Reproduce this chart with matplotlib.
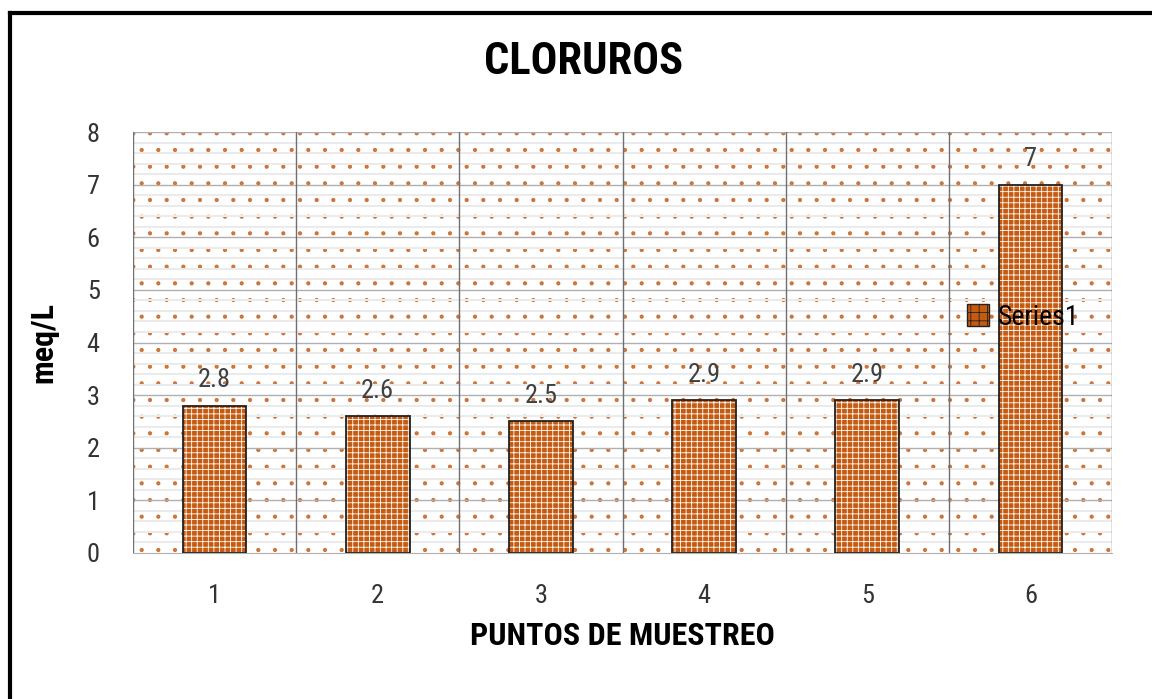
import matplotlib.pyplot as plt
from matplotlib import font_manager
from matplotlib.patches import Rectangle
from matplotlib.lines import Line2D

# data
puntos = ["1", "2", "3", "4", "5", "6"]
cloruros = [2.8, 2.6, 2.5, 2.9, 2.9, 7]
etiquetas = ["2.8", "2.6", "2.5", "2.9", "2.9", "7"]

names = {f.name for f in font_manager.fontManager.ttflist}
fam = "Liberation Sans"
for cand in ["Liberation Sans Narrow", "Roboto Condensed", "Open Sans Condensed"]:
    if cand in names:
        fam = cand
        break
plt.rcParams['font.family'] = [fam, 'DejaVu Sans']
plt.rcParams['hatch.linewidth'] = 0.6

naranja = "#C55A11"

fig = plt.figure(figsize=(11.52, 6.99), dpi=100)
ax = fig.add_axes([133/1152, 1 - 553/699, (1112-133)/1152, (553-132)/699])

# frame around the whole chart (cut off at right and bottom)
fig.add_artist(Line2D([10/1152, 1.01], [1 - 13/699, 1 - 13/699], color="black", lw=3, transform=fig.transFigure))
fig.add_artist(Line2D([10/1152, 10/1152], [-0.01, 1 - 13/699], color="black", lw=3, transform=fig.transFigure))

x = list(range(len(puntos)))
ax.set_xlim(-0.5, len(puntos) - 0.5)
ax.set_ylim(0, 8)

# dotted background of the plot area
ax.add_patch(Rectangle((-0.5, 0), len(puntos), 8, facecolor="white", edgecolor=(0.77, 0.35, 0.07, 0.8),
                       hatch=".", lw=0, zorder=0))
# light minor gridlines
for k in range(1, 40):
    if k % 5:
        ax.axhline(k * 0.2, color="#ebebeb", lw=1.5, zorder=0.5)
for k in range(1, 9):
    ax.axhline(k, color="#b0b0b0", lw=1, zorder=0.6)
for k in range(len(puntos) + 1):
    ax.axvline(k - 0.5, color="#707070", lw=1, zorder=0.6)

ax.bar(x, cloruros, width=0.39, color=naranja, edgecolor="white", hatch="+++", lw=0, zorder=2)
ax.bar(x, cloruros, width=0.39, fill=False, edgecolor="#222222", lw=1.3, zorder=3)

for xi, v, t in zip(x, cloruros, etiquetas):
    ax.text(xi, v + 0.25, t, ha="center", va="bottom", fontsize=19, color="#404040")

for s in ax.spines.values():
    s.set_visible(False)
ax.spines["bottom"].set_visible(True)
ax.spines["bottom"].set_color("#b0b0b0")

ax.set_xticks(x)
ax.set_xticklabels(puntos)
ax.set_yticks(range(0, 9))
ax.tick_params(axis="both", length=0, labelsize=19, labelcolor="#333333")
ax.tick_params(axis="x", pad=22)
ax.tick_params(axis="y", pad=24)

ax.set_xlabel("PUNTOS DE MUESTREO", fontsize=23, fontweight="bold", labelpad=10)
ax.set_ylabel("meq/L", fontsize=23, fontweight="bold", labelpad=20)
fig.text(584/1152, 1 - 62/699, "CLORUROS", ha="center", va="center", fontsize=32, fontweight="bold")

leg_handle = Rectangle((0, 0), 1, 1, facecolor=naranja, edgecolor="#222222", hatch="++", lw=1)
ax.legend([leg_handle], ["Series1"], loc="center left", bbox_to_anchor=(0.852, 0.56),
          frameon=False, fontsize=20, handlelength=0.8, handleheight=0.8, handletextpad=0.3,
          borderaxespad=0, borderpad=0)

fig.savefig("out.png", dpi=100)
